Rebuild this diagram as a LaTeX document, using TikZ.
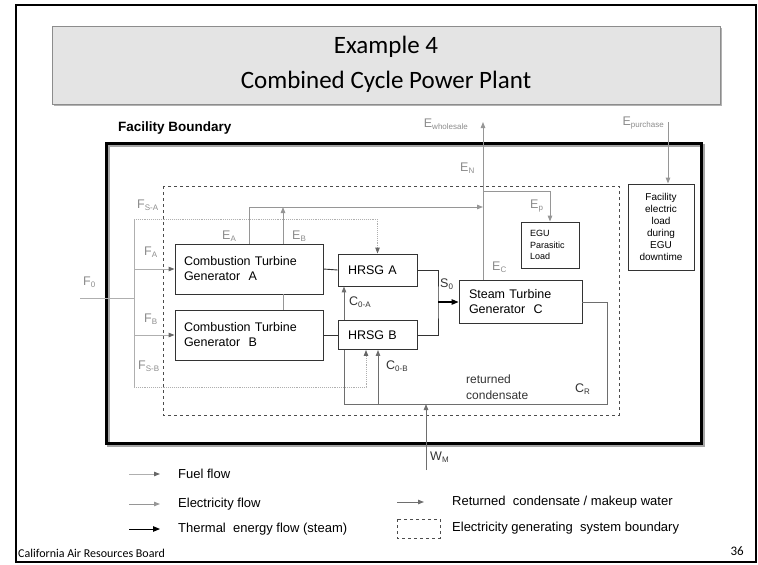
\documentclass[tikz,border=0pt]{standalone}
\usepackage{fontspec}
\setmainfont{Liberation Sans}
\newfontfamily\slidefont{Carlito}
\usetikzlibrary{arrows.meta}
\definecolor{fuelgray}{RGB}{175,175,175}
\definecolor{elecgray}{RGB}{150,150,150}
\definecolor{condgray}{RGB}{110,110,110}
\definecolor{lblgray}{RGB}{140,140,140}
\definecolor{titlefill}{RGB}{228,228,228}
\newcommand{\lbl}[2]{#1\raisebox{-0.35ex}{\fontsize{8}{9}\selectfont #2}}

\begin{document}
\begin{tikzpicture}[x=1pt,y=-1pt,
    every node/.style={font=\fontsize{12.5}{15}\selectfont},
    unit/.style={draw=black!80,fill=white,line width=0.9pt,inner ysep=0pt,align=left},
    fuel/.style={fuelgray,line width=0.9pt,-{Triangle[length=6pt,width=4.5pt,color=black!60]}},
    elec/.style={elecgray,line width=1pt,-{Triangle[length=6pt,width=4.5pt]}},
    steam/.style={black,line width=1.2pt,-{Triangle[length=7pt,width=5.5pt]}},
    link/.style={black!80,line width=0.9pt},
    cond/.style={condgray,line width=1pt,-{Triangle[length=6pt,width=4.5pt]}},
    flowlbl/.style={lblgray,inner sep=0pt},
    darklbl/.style={black!80,inner sep=0pt}]
  \useasboundingbox (0,0) rectangle (758,565);
  \draw[black,line width=2pt] (16,5) rectangle (756,562);
  \fill[black!30] (54,28) rectangle (722,106);
  \draw[fill=titlefill,draw=black!45,line width=0.8pt] (52,26) rectangle (720,104);
  \node[font=\slidefont\fontsize{25}{30}\selectfont] (title1) at (386,47) {Example 4};
  \node[font=\slidefont\fontsize{25}{30}\selectfont] (title2) at (386,82) {Combined Cycle Power Plant};

  \node[anchor=west,inner sep=0pt,font=\bfseries\fontsize{13.5}{16}\selectfont] (fb) at (118,128) {Facility Boundary};
  \draw[black!35,line width=3pt] (108,145) rectangle (703,445);
  \draw[black,line width=3pt] (106,143) rectangle (701,443);
  \draw[black!70,dashed,line width=0.9pt] (163,186) rectangle (619,415);

  \node[unit,inner xsep=9pt,text width=130pt,minimum height=50pt] (ctga) at (249,269) {Combustion Turbine\\Generator~ A};
  \node[unit,inner xsep=9pt,text width=130pt,minimum height=50pt] (ctgb) at (249,335) {Combustion Turbine\\Generator~ B};
  \node[unit,inner xsep=10pt,text width=59pt,minimum height=32pt] (hrsga) at (377.5,270) {HRSG A};
  \node[unit,inner xsep=10pt,text width=59pt,minimum height=29pt] (hrsgb) at (377.5,335) {HRSG B};
  \node[unit,inner xsep=10pt,text width=103pt,minimum height=43pt] (stg) at (520.5,302) {Steam Turbine\\Generator~ C};
  \node[unit,inner xsep=9pt,text width=40pt,minimum height=46pt,font=\fontsize{9}{11.5}\selectfont] (egu) at (550,245) {EGU\\Parasitic\\Load};
  \node[unit,inner xsep=0pt,text width=66pt,minimum height=86pt,align=center,font=\fontsize{10}{12}\selectfont] (load) at (661,227) {Facility\\electric\\load\\during\\EGU\\downtime};

  \coordinate (fin) at (80,298);
  \coordinate (fsa) at (134,219);
  \coordinate (fsb) at (134,387);
  \draw[fuel,-] (fin) -- (fin -| fsa);
  \draw[fuel,-] (fsa) -- (fsb);
  \draw[fuel] (fsa |- ctga) -- (ctga.west);
  \draw[fuel] (fsa |- ctgb) -- (ctgb.west);
  \draw[fuel,densely dotted] (fsa) -| (hrsga.north);
  \draw[fuel,densely dotted] (fsb) -| ([xshift=-11.5pt]hrsgb.south);

  \coordinate (ewh) at (483,122);
  \coordinate (ebus) at (483,207);
  \coordinate (epj) at (483,191);
  \coordinate (ea) at (249,207);
  \coordinate (eb) at (283,207);
  \coordinate (epu) at (668,122);
  \draw[elec] (stg.north -| ewh) -- (ewh);
  \draw[elec] (epj) -| (egu.north);
  \draw[elec] (ctga.north -| ea) |- (ebus);
  \draw[elec,-] (ctgb.north -| eb) -- (ctga.south -| eb);
  \draw[elec] (ctga.north -| eb) -- (eb);
  \draw[elec] (epu) -- (load.north -| epu);

  \coordinate (sj) at (438,302);
  \draw[link] (ctga.east) -- (hrsga.west);
  \draw[link] (ctgb.east) -- (hrsgb.west);
  \draw[link] (hrsga.east) -| (sj) |- (hrsgb.east);
  \draw[steam] (sj) -- (stg.west);

  \coordinate (cr) at (607,404);
  \coordinate (c0a) at (344,404);
  \coordinate (c0b) at (378,404);
  \coordinate (wm) at (426,470);
  \draw[cond,-] (stg.east) -| (cr) -- (c0a) -- (hrsgb.south -| c0a);
  \draw[cond] (hrsgb.north -| c0a) -- (hrsga.south -| c0a);
  \draw[cond] (c0b) -- (hrsgb.south -| c0b);
  \draw[cond] (wm) -- (wm |- cr);

  \node[flowlbl,anchor=west] (lf0) at (83,282) {\lbl{F}{0}};
  \node[flowlbl,anchor=west] (lfsa) at (137,205) {\lbl{F}{S-A}};
  \node[flowlbl,anchor=west] (lfa) at (144,252) {\lbl{F}{A}};
  \node[flowlbl,anchor=west] (lfb) at (144,319) {\lbl{F}{B}};
  \node[flowlbl,anchor=west] (lfsb) at (138,366) {\lbl{F}{S-B}};
  \node[flowlbl,anchor=west] (lea) at (222,236) {\lbl{E}{A}};
  \node[flowlbl,anchor=west] (leb) at (292,236) {\lbl{E}{B}};
  \node[flowlbl,anchor=east] (lewh) at (468,124) {\lbl{E}{wholesale}};
  \node[flowlbl,anchor=west] (len) at (460,168) {\lbl{E}{N}};
  \node[flowlbl,anchor=west] (lep) at (530,206) {\lbl{E}{p}};
  \node[flowlbl,anchor=west] (lec) at (492,267) {\lbl{E}{C}};
  \node[flowlbl,anchor=east] (lepu) at (664,123) {\lbl{E}{purchase}};
  \node[darklbl,anchor=west] (ls0) at (440,284) {\lbl{S}{0}};
  \node[darklbl,anchor=west] (lc0a) at (349,302) {\lbl{C}{0-A}};
  \node[darklbl,anchor=west] (lc0b) at (386,366) {\lbl{C}{0-B}};
  \node[darklbl,anchor=west,align=left,font=\fontsize{12}{16}\selectfont] (lret) at (466,387) {returned\\condensate};
  \node[darklbl,anchor=west] (lcr) at (575,389) {\lbl{C}{R}};
  \node[darklbl,anchor=west] (lwm) at (430,457) {\lbl{W}{M}};

  \foreach \y/\s/\t in {474/fuel/{Fuel flow}, 504/elec/{Electricity flow}, 529/steam/{Thermal~ energy flow (steam)}} {
    \draw[\s,line width=1pt] (129,\y) -- (160,\y);
    \node[anchor=west,inner sep=0pt,font=\fontsize{13}{15}\selectfont] (leg\s) at (178,\y) {\t};
  }
  \draw[cond] (397,502) -- (424,502);
  \node[anchor=west,inner sep=0pt,font=\fontsize{13}{15}\selectfont] (legcond) at (452,502) {Returned~ condensate / makeup water};
  \draw[black!70,dashed,line width=0.8pt] (397,519) rectangle (440,538);
  \node[anchor=west,inner sep=0pt,font=\fontsize{13}{15}\selectfont] (legbound) at (452,528) {Electricity generating~ system boundary};

  \node[anchor=west,inner sep=0pt,font=\slidefont\fontsize{12}{14}\selectfont] (footer) at (18,553) {California Air Resources Board};
  \node[anchor=east,inner sep=0pt,font=\slidefont\fontsize{13}{15}\selectfont] (pageno) at (744,551) {36};
\end{tikzpicture}
\end{document}
